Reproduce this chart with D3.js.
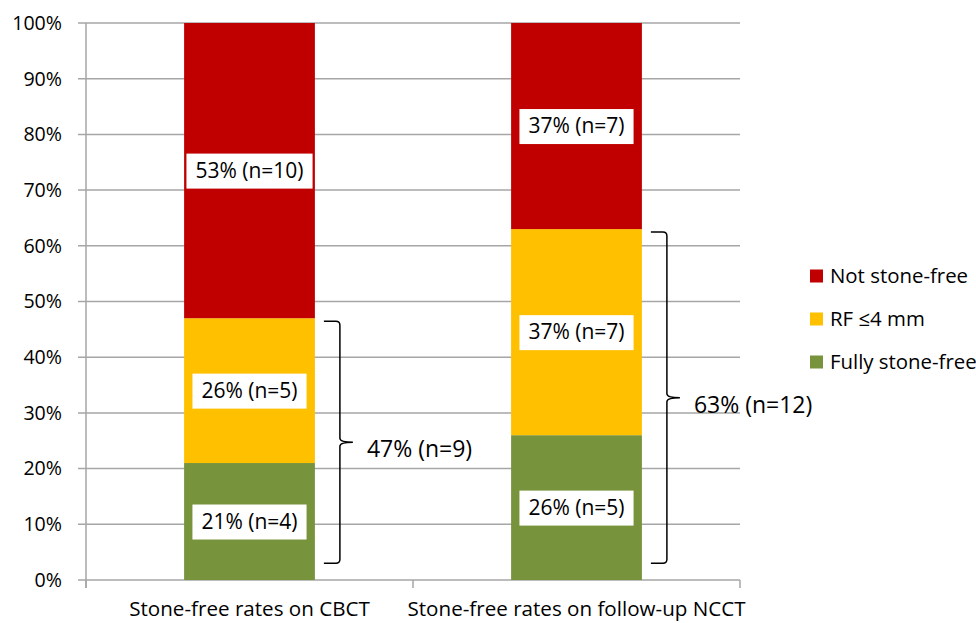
<!DOCTYPE html>
<html>
<head>
<meta charset="utf-8">
<script src="https://cdn.jsdelivr.net/npm/d3@7"></script>
<style>
  body { margin: 0; background: #fff; }
  svg { display: block; font-family: "Open Sans", "Noto Sans", sans-serif; }
</style>
</head>
<body>
<svg id="chart" width="976" height="623"></svg>
<script>
// Stone-free outcome per imaging modality (percent of 19 patients)
const categories = ["Stone-free rates on CBCT", "Stone-free rates on follow-up NCCT"];
const seriesNames = ["Fully stone-free", "RF \u22644 mm", "Not stone-free"];
const fullyStoneFree = [21, 26];
const residualFragments = [26, 37];
const notStoneFree = [53, 37];
const fullyCounts = [4, 5];
const residualCounts = [5, 7];
const notCounts = [10, 7];
// Combined "fully stone-free + RF ≤4 mm" groups, shown with a brace
const combinedPct = [47, 63];
const combinedCounts = [9, 12];
const yTicks = [0, 10, 20, 30, 40, 50, 60, 70, 80, 90, 100];

const colors = { "Fully stone-free": "#77933C", "RF \u22644 mm": "#FFC000", "Not stone-free": "#C00000" };

const rows = categories.map((c, i) => ({
  category: c,
  "Fully stone-free": fullyStoneFree[i],
  "RF \u22644 mm": residualFragments[i],
  "Not stone-free": notStoneFree[i],
  counts: { "Fully stone-free": fullyCounts[i], "RF \u22644 mm": residualCounts[i], "Not stone-free": notCounts[i] }
}));

const svg = d3.select("#chart");
const plot = { left: 86, right: 740, top: 23, bottom: 580 };

const x = d3.scaleBand().domain(categories).range([plot.left, plot.right]).paddingInner(0.6).paddingOuter(0.3);
const y = d3.scaleLinear().domain([0, 100]).range([plot.bottom, plot.top]);

// Horizontal gridlines
svg.append("g")
  .selectAll("line")
  .data(yTicks)
  .join("line")
  .attr("x1", plot.left - 8).attr("x2", plot.right)
  .attr("y1", d => y(d)).attr("y2", d => y(d))
  .attr("stroke", "#a6a6a6").attr("stroke-width", 1.5);

// Y axis line and labels
svg.append("line")
  .attr("x1", plot.left).attr("x2", plot.left)
  .attr("y1", plot.top).attr("y2", plot.bottom + 8)
  .attr("stroke", "#a6a6a6").attr("stroke-width", 1.5);

svg.append("g")
  .selectAll("text")
  .data(yTicks)
  .join("text")
  .attr("x", 62).attr("y", d => y(d))
  .attr("dy", "0.35em")
  .attr("text-anchor", "end")
  .attr("font-size", 19.6)
  .attr("fill", "#000")
  .text(d => d + "%");

// X axis category separators
const boundaries = [plot.left, (x(categories[0]) + x.bandwidth() + x(categories[1])) / 2, plot.right];
svg.append("g")
  .selectAll("line")
  .data(boundaries)
  .join("line")
  .attr("x1", d => d).attr("x2", d => d)
  .attr("y1", plot.bottom).attr("y2", plot.bottom + 8)
  .attr("stroke", "#a6a6a6").attr("stroke-width", 1.5);

svg.append("g")
  .selectAll("text")
  .data(categories)
  .join("text")
  .attr("x", d => x(d) + x.bandwidth() / 2)
  .attr("y", 609)
  .attr("dy", "0.35em")
  .attr("text-anchor", "middle")
  .attr("font-size", 20.6)
  .text(d => d);

// Stacked bars
const stack = d3.stack().keys(seriesNames);
const layers = stack(rows);

const layerG = svg.append("g")
  .selectAll("g")
  .data(layers)
  .join("g")
  .attr("fill", d => colors[d.key]);

layerG.selectAll("rect")
  .data(d => d)
  .join("rect")
  .attr("x", d => x(d.data.category))
  .attr("width", x.bandwidth())
  .attr("y", d => y(d[1]))
  .attr("height", d => y(d[0]) - y(d[1]));

// Segment value labels in white boxes
const labelG = svg.append("g");
layers.forEach(layer => {
  layer.forEach(d => {
    const cx = x(d.data.category) + x.bandwidth() / 2;
    const cy = (y(d[0]) + y(d[1])) / 2;
    const txt = `${d[1] - d[0]}% (n=${d.data.counts[layer.key]})`;
    const g = labelG.append("g");
    const t = g.append("text")
      .attr("x", cx).attr("y", cy)
      .attr("dy", "0.35em")
      .attr("text-anchor", "middle")
      .attr("font-size", 21)
      .text(txt);
    const bb = t.node().getBBox();
    const w = Math.min(bb.width + 18, x.bandwidth() - 2);
    g.insert("rect", "text")
      .attr("x", cx - w / 2).attr("width", w)
      .attr("y", cy - 17).attr("height", 35)
      .attr("fill", "#fff");
  });
});

// Braces spanning the combined stone-free groups
function bracePath(xl, xv, xt, yTop, yBot, yMid) {
  const r = 4;
  return `M${xl},${yTop} L${xv - r},${yTop} Q${xv},${yTop} ${xv},${yTop + r}` +
    ` L${xv},${yMid - r} Q${xv},${yMid} ${xt},${yMid}` +
    ` Q${xv},${yMid} ${xv},${yMid + r}` +
    ` L${xv},${yBot - r} Q${xv},${yBot} ${xv - r},${yBot} L${xl},${yBot}`;
}

categories.forEach((c, i) => {
  const xr = x(c) + x.bandwidth();
  const yTop = y(combinedPct[i]) + 3;
  const yBot = y(3);
  const yMid = (yTop + yBot) / 2;
  const xl = xr + 9;
  const xv = xr + 25;
  const xt = xv + 13;
  svg.append("path")
    .attr("d", bracePath(xl, xv, xt, yTop, yBot, yMid))
    .attr("fill", "none")
    .attr("stroke", "#000")
    .attr("stroke-width", 1.5);
  svg.append("text")
    .attr("x", xt + 14)
    .attr("y", yMid + 7)
    .attr("dy", "0.35em")
    .attr("font-size", 23)
    .text(`${combinedPct[i]}% (n=${combinedCounts[i]})`);
});

// Legend (top-down: Not stone-free, RF ≤4 mm, Fully stone-free)
const legendItems = seriesNames.slice().reverse();
const legend = svg.append("g")
  .selectAll("g")
  .data(legendItems)
  .join("g")
  .attr("transform", (d, i) => `translate(810, ${276 + i * 43})`);
legend.append("rect")
  .attr("x", 0).attr("y", -6.5)
  .attr("width", 13).attr("height", 13)
  .attr("fill", d => colors[d]);
legend.append("text")
  .attr("x", 20).attr("y", 0)
  .attr("dy", "0.35em")
  .attr("font-size", 20.4)
  .text(d => d);
</script>
</body>
</html>
